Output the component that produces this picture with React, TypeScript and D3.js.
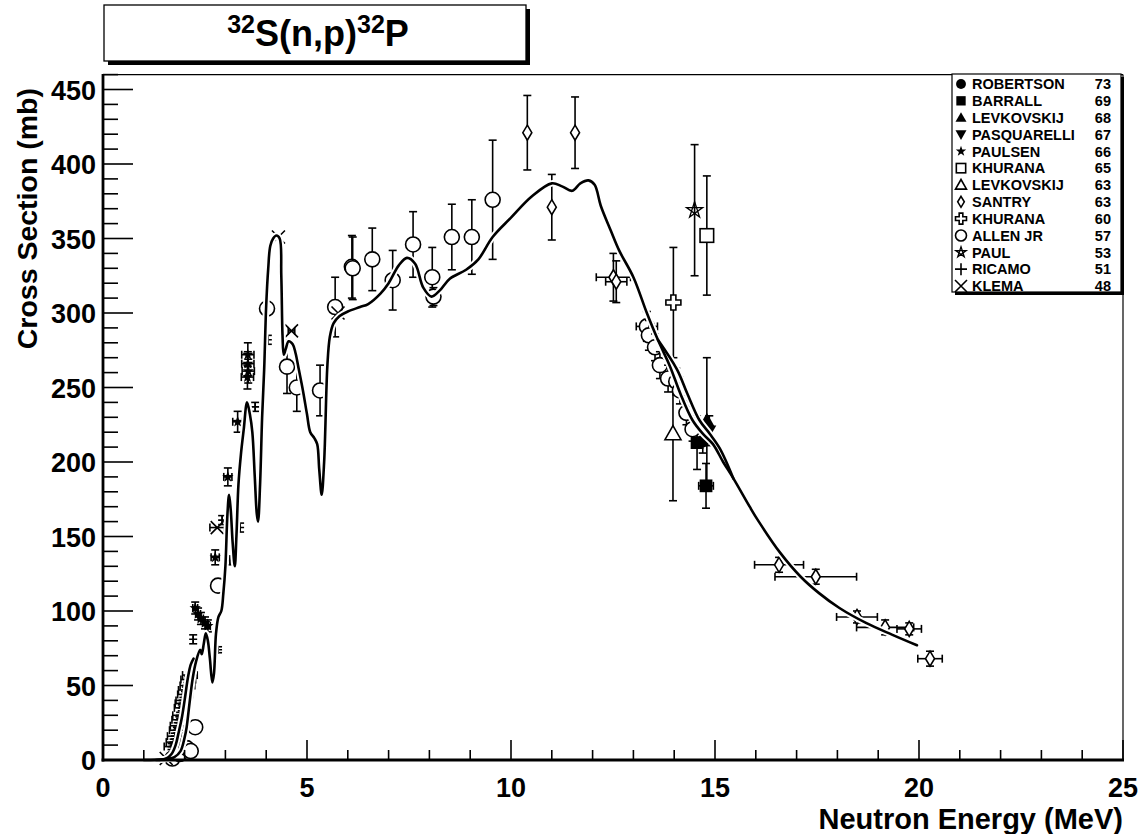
import React from 'react';
import * as d3 from 'd3';

// ---------- data ----------
// evaluated excitation curve (E in MeV, sigma in mb)
const curveE = [1.0, 1.5, 1.75, 1.9, 2.0, 2.05, 2.12, 2.2, 2.28, 2.38, 2.42, 2.47, 2.52, 2.57, 2.62, 2.68, 2.72, 2.77, 2.83, 2.9, 2.95, 3.0, 3.05, 3.09, 3.13, 3.18, 3.23, 3.27, 3.32, 3.38, 3.45, 3.53, 3.6, 3.66, 3.72, 3.77, 3.8, 3.85, 3.9, 3.95, 4.0, 4.05, 4.1, 4.17, 4.25, 4.33, 4.37, 4.4, 4.43, 4.48, 4.55, 4.65, 4.72, 4.8, 4.9, 5.0, 5.08, 5.18, 5.25, 5.3, 5.36, 5.42, 5.5, 5.56, 5.65, 5.8, 6.0, 6.3, 6.5, 6.8, 7.0, 7.25, 7.45, 7.65, 7.85, 8.05, 8.25, 8.5, 8.9, 9.2, 9.55, 10.0, 10.5, 11.0, 11.25, 11.5, 11.7, 11.9, 12.05, 12.2, 12.45, 12.65, 13.0, 13.33, 13.6, 13.9, 14.15, 14.45, 14.7, 14.95, 15.2, 15.45, 15.85, 16.05, 16.6, 17.1, 17.55, 18.05, 18.7, 19.35, 19.95];
const curveS = [0, 0.5, 2, 6, 15, 22, 38, 55, 66, 74, 71, 78, 85, 80, 68, 52, 58, 85, 96, 100, 112, 130, 165, 178, 168, 145, 130, 150, 185, 205, 222, 240, 232, 220, 190, 165, 160, 185, 230, 262, 305, 330, 345, 350, 352, 350, 325, 285, 272, 276, 281, 279, 273, 262, 248, 232, 220, 216, 212, 195, 178, 200, 265, 284, 293, 298, 301, 304, 306, 313, 320, 332, 337, 333, 317, 311, 315, 323, 329, 336, 351, 364, 378, 387, 385, 382, 387, 389, 386, 372, 355, 342, 324, 300, 282, 264, 246, 228, 219, 212, 200, 189, 170, 161, 139, 123, 112, 102, 92, 84, 77];

// second evaluation, visible where it separates from the first
const curveLowE = [1.3, 1.55, 1.68, 1.78, 1.85, 1.93, 2.0, 2.08, 2.15, 2.22];
const curveLowS = [0, 1, 4, 10, 18, 28, 40, 55, 64, 68];
const curveMidE = [13.6, 14.07, 14.32, 14.62, 14.87, 15.12, 15.45];
const curveMidS = [282, 262, 246, 228, 219, 209, 189];

// experimental points: [E, sigma, dSigma, dE]
type Pt = [number, number, number, number];
const robertson73: Pt[] = [[14.7, 214, 8, 0]];
const barrall69: Pt[] = [[14.56, 213, 18, 0], [14.78, 184, 15, 0.18]];
const levkovskij68: Pt[] = [[14.8, 228, 42, 0]];
const pasquarelli67: Pt[] = [[14.86, 221, 10, 0]];
const paulsen66: Pt[] = [[2.26, 102, 4, 0.06], [2.33, 98, 4, 0.06], [2.4, 95, 4, 0.06], [2.5, 92, 4, 0.06], [2.57, 90, 4, 0.06], [2.75, 136, 5, 0.1], [3.06, 190, 6, 0.1], [3.3, 227, 7, 0.12], [3.55, 272, 8, 0.15], [3.55, 266, 8, 0.15], [3.56, 261, 8, 0.15], [3.54, 257, 8, 0.15]];
const khurana65: Pt[] = [[14.8, 352, 40, 0]];
const levkovskij63: Pt[] = [[13.97, 219, 45, 0]];
const santry63: Pt[] = [[10.4, 421, 25, 0], [11.0, 371, 22, 0], [11.57, 421, 24, 0], [12.51, 324, 16, 0.42], [12.58, 321, 14, 0.26], [16.57, 131, 5, 0.6], [17.47, 123, 5, 1.0], [18.48, 96, 4, 0.5], [19.17, 89, 5, 0.7], [19.76, 88, 4, 0.3], [20.27, 68, 5, 0.3]];
const khurana60: Pt[] = [[13.98, 307, 37, 0]];
const allenJr57: Pt[] = [[1.7, 1, 0, 0], [1.88, 4, 0, 0], [2.05, 8, 0, 0], [2.15, 6, 0, 0], [2.26, 22, 0, 0], [2.82, 117, 0, 0], [4.02, 303, 0, 0], [4.51, 264, 18, 0], [4.75, 250, 16, 0], [5.32, 248, 17, 0], [5.69, 304, 20, 0], [6.1, 331, 21, 0], [6.12, 330, 21, 0], [6.6, 336, 21, 0], [7.1, 322, 20, 0], [7.6, 346, 22, 0], [8.07, 324, 20, 0], [8.1, 311, 6, 0], [8.55, 351, 22, 0], [9.04, 351, 25, 0], [9.55, 376, 40, 0], [13.33, 291, 10, 0.26], [13.38, 285, 10, 0], [13.53, 277, 9, 0], [13.65, 265, 9, 0], [13.85, 256, 9, 0], [14.05, 254, 9, 0], [14.14, 248, 9, 0], [14.3, 233, 8, 0], [14.45, 222, 8, 0]];
const paul53: Pt[] = [[14.5, 369, 44, 0]];
const ricamo51: Pt[] = [[1.68, 9, 2, 0.18], [1.73, 12, 2, 0.18], [1.76, 16, 2, 0.18], [1.81, 20, 2, 0.18], [1.83, 23, 2, 0.18], [1.87, 27, 2, 0.18], [1.89, 30, 2, 0.18], [1.93, 35, 2, 0.18], [1.95, 38, 2, 0.18], [1.97, 40, 2, 0.18], [2.01, 44, 2, 0.18], [2.03, 47, 2, 0.18], [2.07, 50, 2, 0.18], [2.09, 54, 2, 0.18], [2.13, 57, 2, 0.18], [2.21, 81, 3, 0], [2.82, 74, 2, 0], [2.92, 161, 3, 0], [3.11, 134, 3, 0], [3.36, 156, 3, 0], [3.73, 237, 3, 0], [4.04, 282, 3, 0]];
const klema48: Pt[] = [[1.55, 1, 0, 0], [2.8, 156, 0, 0.18], [4.3, 351, 0, 0], [4.62, 288, 0, 0.08], [5.76, 300, 0, 0]];

const legendNames = ['ROBERTSON', 'BARRALL', 'LEVKOVSKIJ', 'PASQUARELLI', 'PAULSEN', 'KHURANA', 'LEVKOVSKIJ', 'SANTRY', 'KHURANA', 'ALLEN JR', 'PAUL', 'RICAMO', 'KLEMA'];
const legendYears = ['73', '69', '68', '67', '66', '65', '63', '63', '60', '57', '53', '51', '48'];
const seriesData = [robertson73, barrall69, levkovskij68, pasquarelli67, paulsen66, khurana65, levkovskij63, santry63, khurana60, allenJr57, paul53, ricamo51, klema48];
const markerTypes = ['fcircle', 'fsquare', 'ftriup', 'ftridown', 'fstar', 'osquare', 'otriup', 'odiamond', 'ocross', 'ocircle', 'ostar', 'plus', 'xmark'];

const xTickLabels = ['0', '5', '10', '15', '20', '25'];
const yTickLabels = ['0', '50', '100', '150', '200', '250', '300', '350', '400', '450'];

// ---------- layout ----------
const W = 1145, H = 834;
const FONT = "'Liberation Sans', Arial, Helvetica, sans-serif";
const x = d3.scaleLinear().domain([0, 25]).range([103, 1123]);
const y = d3.scaleLinear().domain([0, 460]).range([760, 74.6]);

function starPoly(R: number, r: number) {
  const p: string[] = [];
  for (let i = 0; i < 10; i++) {
    const a = -Math.PI / 2 + (i * Math.PI) / 5;
    const rad = i % 2 ? r : R;
    p.push(`${(rad * Math.cos(a)).toFixed(2)},${(rad * Math.sin(a)).toFixed(2)}`);
  }
  return 'M' + p.join('L') + 'Z';
}
function pentagram(R: number) {
  const p: string[] = [];
  for (let k = 0; k < 5; k++) {
    const a = -Math.PI / 2 + (k * 4 * Math.PI) / 5;
    p.push(`${(R * Math.cos(a)).toFixed(2)},${(R * Math.sin(a)).toFixed(2)}`);
  }
  return 'M' + p.join('L') + 'Z';
}

function Marker({ type, cx, cy, s }: { type: string; cx: number; cy: number; s: number }) {
  const h = s / 2;
  const t = `translate(${cx},${cy})`;
  const sw = 1.6;
  switch (type) {
    case 'fcircle':
      return <circle cx={cx} cy={cy} r={h * 0.9} fill="#000" />;
    case 'ocircle':
      return <circle cx={cx} cy={cy} r={h} fill="#fff" stroke="#000" strokeWidth={sw} />;
    case 'fsquare':
      return <rect x={cx - h * 0.85} y={cy - h * 0.85} width={s * 0.85} height={s * 0.85} fill="#000" />;
    case 'osquare':
      return <rect x={cx - h * 0.85} y={cy - h * 0.85} width={s * 0.85} height={s * 0.85} fill="#fff" stroke="#000" strokeWidth={sw} />;
    case 'ftriup':
      return <path transform={t} d={`M0,${-h}L${h},${h * 0.75}L${-h},${h * 0.75}Z`} fill="#000" />;
    case 'otriup':
      return <path transform={t} d={`M0,${-h}L${h},${h * 0.75}L${-h},${h * 0.75}Z`} fill="#fff" stroke="#000" strokeWidth={sw} />;
    case 'ftridown':
      return <path transform={t} d={`M0,${h}L${h},${-h * 0.75}L${-h},${-h * 0.75}Z`} fill="#000" />;
    case 'odiamond':
      return <path transform={t} d={`M0,${-h}L${h * 0.6},0L0,${h}L${-h * 0.6},0Z`} fill="#fff" stroke="#000" strokeWidth={sw} />;
    case 'ocross': {
      const a = s / 6;
      return <path transform={t} d={`M${-a},${-h}L${a},${-h}L${a},${-a}L${h},${-a}L${h},${a}L${a},${a}L${a},${h}L${-a},${h}L${-a},${a}L${-h},${a}L${-h},${-a}L${-a},${-a}Z`} fill="#fff" stroke="#000" strokeWidth={sw} />;
    }
    case 'fstar':
      return <path transform={t} d={starPoly(h, h * 0.4)} fill="#000" />;
    case 'ostar':
      return <path transform={t} d={pentagram(h)} fill="none" stroke="#000" strokeWidth={1.3} />;
    case 'plus':
      return <path transform={t} d={`M${-h},0L${h},0M0,${-h}L0,${h}`} stroke="#000" strokeWidth={1.6} />;
    case 'xmark':
      return <path transform={t} d={`M${-h},${-h}L${h},${h}M${-h},${h}L${h},${-h}`} stroke="#000" strokeWidth={1.6} />;
    default:
      return null;
  }
}

const plotSize: Record<string, number> = {
  fcircle: 14, ocircle: 15, fsquare: 15, osquare: 16, ftriup: 15, otriup: 16, ftridown: 14,
  odiamond: 15, ocross: 15, fstar: 12, ostar: 17, plus: 8, xmark: 13,
};

function ErrorBars({ p }: { p: Pt }) {
  const [E, S, dS, dE] = p;
  const cx = x(E), cy = y(S);
  const serif = 4;
  const els: React.ReactNode[] = [];
  if (dS > 0) {
    const y1 = y(S + dS), y2 = y(S - dS);
    els.push(<line key="v" x1={cx} x2={cx} y1={y1} y2={y2} />);
    els.push(<line key="vt" x1={cx - serif} x2={cx + serif} y1={y1} y2={y1} />);
    els.push(<line key="vb" x1={cx - serif} x2={cx + serif} y1={y2} y2={y2} />);
  }
  if (dE > 0) {
    const x1 = x(E - dE), x2 = x(E + dE);
    els.push(<line key="h" x1={x1} x2={x2} y1={cy} y2={cy} />);
    els.push(<line key="hl" x1={x1} x2={x1} y1={cy - serif} y2={cy + serif} />);
    els.push(<line key="hr" x1={x2} x2={x2} y1={cy - serif} y2={cy + serif} />);
  }
  return <g stroke="#000" strokeWidth={1.6}>{els}</g>;
}

const lineGen = d3.line<[number, number]>().x(d => x(d[0])).y(d => y(d[1])).curve(d3.curveCatmullRom.alpha(0.5));
function curvePath(es: number[], ss: number[]) {
  return lineGen(es.map((e, i) => [e, ss[i]] as [number, number])) || '';
}

export default function App() {
  const xMinor = d3.range(0, 26, 1);
  const yMinor = d3.range(0, 461, 10);
  const xMajor = x.ticks(5);
  const yMajor = d3.range(0, 451, 50);

  const legX = 952, legY = 74, legW = 169, legH = 218;
  const rowH = 16.83, row0 = 84;

  const curves = [curvePath(curveLowE, curveLowS), curvePath(curveE, curveS), curvePath(curveMidE, curveMidS)];

  return (
    <svg width={W} height={H} style={{ position: 'absolute', left: 0, top: 0, background: '#fff' }} fontFamily={FONT}>
      <rect x={0} y={0} width={W} height={H} fill="#fff" />

      {/* data points */}
      {seriesData.map((arr, si) => (
        <g key={si}>
          {arr.map((p, i) => (
            <g key={i}>
              <ErrorBars p={p} />
              <Marker type={markerTypes[si]} cx={x(p[0])} cy={y(p[1])} s={plotSize[markerTypes[si]]} />
            </g>
          ))}
        </g>
      ))}

      {/* evaluated curves: white casing first, then the black lines */}
      <g fill="none" strokeLinejoin="round" strokeLinecap="round">
        {curves.map((d, i) => <path key={'h' + i} d={d} stroke="#fff" strokeWidth={6.5} />)}
        {curves.map((d, i) => <path key={'l' + i} d={d} stroke="#000" strokeWidth={2.6} />)}
      </g>

      {/* frame */}
      <line x1={103} x2={1123} y1={74.6} y2={74.6} stroke="#000" strokeWidth={1.2} />
      <line x1={1123} x2={1123} y1={74.6} y2={760} stroke="#000" strokeWidth={1.2} />
      <line x1={103} x2={103} y1={74} y2={761.5} stroke="#000" strokeWidth={2.8} />
      <line x1={101.6} x2={1124} y1={760} y2={760} stroke="#000" strokeWidth={2.8} />

      {/* ticks */}
      <g stroke="#000" strokeWidth={1.6}>
        {xMinor.map(v => (
          <line key={'xm' + v} x1={x(v)} x2={x(v)} y1={760} y2={v % 5 === 0 ? 740 : 750} />
        ))}
        {yMinor.map(v => (
          <line key={'ym' + v} x1={103} x2={v % 50 === 0 ? 133 : 118} y1={y(v)} y2={y(v)} />
        ))}
      </g>

      {/* tick labels */}
      <g fontWeight="bold" fontSize={27} fill="#000">
        {xMajor.map((v, i) => (
          <text key={'xl' + v} x={x(v)} y={797} textAnchor="middle">{xTickLabels[i]}</text>
        ))}
        {yMajor.map((v, i) => (
          <text key={'yl' + v} x={96} y={y(v) + 10} textAnchor="end">{yTickLabels[i]}</text>
        ))}
      </g>

      {/* axis titles */}
      <text x={1123} y={829} textAnchor="end" fontWeight="bold" fontSize={29}>Neutron Energy (MeV)</text>
      <text transform="translate(37,88) rotate(-90)" textAnchor="end" fontWeight="bold" fontSize={28.5}>Cross Section (mb)</text>

      {/* title box */}
      <rect x={108} y={9} width={422} height={56} fill="#000" />
      <rect x={104} y={5} width={422} height={56} fill="#fff" stroke="#000" strokeWidth={1.3} />
      <text x={318} y={46} textAnchor="middle" fontWeight="bold" fontSize={36}>
        <tspan fontSize={25} dy={-13}>32</tspan>
        <tspan fontSize={36} dy={13}>S(n,p)</tspan>
        <tspan fontSize={25} dy={-13}>32</tspan>
        <tspan fontSize={36} dy={13}>P</tspan>
      </text>

      {/* legend */}
      <rect x={legX + 3} y={legY + 3} width={legW} height={legH} fill="#000" />
      <rect x={legX} y={legY} width={legW} height={legH} fill="#fff" stroke="#000" strokeWidth={1.2} />
      {legendNames.map((n, i) => {
        const cy = row0 + i * rowH;
        return (
          <g key={'lg' + i}>
            <Marker type={markerTypes[i]} cx={961} cy={cy} s={markerTypes[i] === 'plus' || markerTypes[i] === 'xmark' ? 12 : 11} />
            <text x={972} y={cy + 5.3} fontWeight="bold" fontSize={14.5}>{n}</text>
            <text x={1111} y={cy + 5.3} fontWeight="bold" fontSize={14.5} textAnchor="end">{legendYears[i]}</text>
          </g>
        );
      })}
    </svg>
  );
}
